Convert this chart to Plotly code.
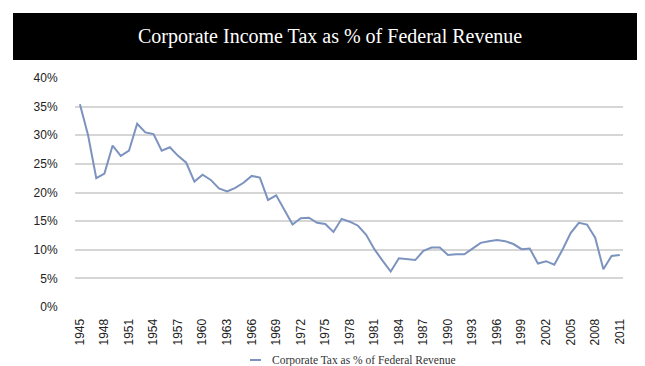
import plotly.graph_objects as go

years = list(range(1945, 2012))
corp_tax_pct = [
    35.4, 30.0, 22.5, 23.3, 28.2, 26.4, 27.3, 32.0, 30.5, 30.2,
    27.3, 27.9, 26.4, 25.2, 21.9, 23.1, 22.2, 20.7, 20.2, 20.8,
    21.7, 22.9, 22.6, 18.7, 19.5, 17.0, 14.4, 15.5, 15.6, 14.7,
    14.5, 13.1, 15.4, 14.9, 14.2, 12.6, 10.1, 8.1, 6.2, 8.5,
    8.4, 8.2, 9.8, 10.4, 10.4, 9.1, 9.2, 9.2, 10.2, 11.2,
    11.5, 11.7, 11.5, 11.0, 10.1, 10.2, 7.6, 8.0, 7.4, 10.0,
    12.9, 14.7, 14.4, 12.1, 6.6, 8.9, 9.1,
]
tick_years = list(range(1945, 2012, 3))
tick_labels = [str(y) for y in tick_years]
y_ticks = [0, 5, 10, 15, 20, 25, 30, 35, 40]
y_tick_labels = [f"{v}%" for v in y_ticks]

title_text = "Corporate Income Tax as % of Federal Revenue"
legend_text = "Corporate Tax as % of Federal Revenue"
line_color = "#7d93bf"

fig = go.Figure()
fig.add_trace(go.Scatter(
    x=years, y=corp_tax_pct, mode="lines",
    line=dict(color=line_color, width=2),
    name=legend_text, showlegend=False,
))

L, R, T, B = 67, 30, 70, 67
W, H = 645, 366
pw = W - L - R
ph = H - T - B

def px_x(x):
    return (x - L) / pw

def px_y(y):
    return (H - B - y) / ph

fig.update_layout(
    width=W, height=H,
    margin=dict(l=L, r=R, t=T, b=B),
    paper_bgcolor="white", plot_bgcolor="white",
    xaxis=dict(
        range=[1944.4, 2011.4],
        tickmode="array", tickvals=tick_years, ticktext=tick_labels,
        tickangle=-90, showgrid=False, zeroline=False, showline=False,
        ticks="outside", ticklen=6, tickcolor="rgba(0,0,0,0)",
        tickfont=dict(family="Liberation Sans, Arial", size=12, color="#222"),
    ),
    yaxis=dict(
        range=[0, 40],
        tickmode="array", tickvals=y_ticks, ticktext=y_tick_labels,
        showgrid=True, gridcolor="#d6d6d6", gridwidth=1.5,
        zeroline=False, showline=False,
        ticks="outside", ticklen=14, tickcolor="rgba(0,0,0,0)",
        tickfont=dict(family="Liberation Sans, Arial", size=12, color="#222"),
    ),
    shapes=[
        dict(type="rect", xref="paper", yref="paper",
             x0=px_x(5), x1=px_x(638), y0=px_y(52), y1=px_y(5),
             fillcolor="black", line=dict(width=0), layer="above"),
        dict(type="line", xref="paper", yref="paper",
             x0=px_x(242), x1=px_x(253), y0=px_y(352), y1=px_y(352),
             line=dict(color=line_color, width=2)),
    ],
    annotations=[
        dict(text=title_text, xref="paper", yref="paper",
             x=px_x(322), y=px_y(29), xanchor="center", yanchor="middle",
             showarrow=False,
             font=dict(family="Liberation Serif, serif", size=20, color="white")),
        dict(text=legend_text, xref="paper", yref="paper",
             x=px_x(262), y=px_y(352), xanchor="left", yanchor="middle",
             showarrow=False,
             font=dict(family="Liberation Serif, serif", size=11.5, color="#333")),
    ],
)

fig.write_html("out.html")
